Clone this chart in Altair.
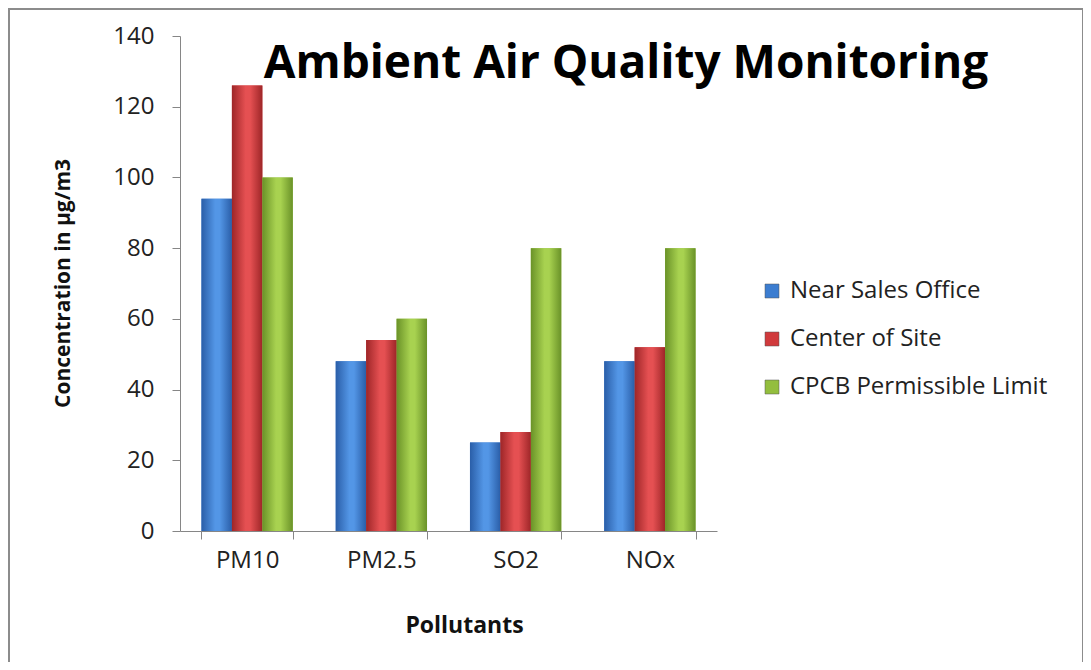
import altair as alt
import pandas as pd

pollutants = ["PM10", "PM2.5", "SO2", "NOx"]
series = ["Near Sales Office", "Center of Site", "CPCB Permissible Limit"]
near_sales_office = [94, 48, 25, 48]
center_of_site = [126, 54, 28, 52]
cpcb_limit = [100, 60, 80, 80]
y_ticks = [0, 20, 40, 60, 80, 100, 120, 140]

base_colors = ["#3C7DD0", "#D03A3C", "#93BE3E"]
edge_colors = ["#2A5EA8", "#9E2628", "#6A9228"]
mid_colors = ["#5396E6", "#E55052", "#A8D250"]

rows = []
for s, vals in zip(series, [near_sales_office, center_of_site, cpcb_limit]):
    for p, v in zip(pollutants, vals):
        rows.append({"Pollutant": p, "Series": s, "Value": v})
df = pd.DataFrame(rows)

FONT = "Open Sans"

x_enc = alt.X("Pollutant:N", sort=pollutants,
              scale=alt.Scale(paddingInner=0.32, paddingOuter=0.16),
              axis=alt.Axis(title="Pollutants", labelAngle=0, tickBand="extent",
                            labelFontSize=24, labelColor="#222222", labelPadding=9,
                            tickSize=8, tickColor="#868686", domainColor="#868686",
                            titleFontSize=23, titleFontWeight="bold", titleColor="#111111",
                            titleX=284, titleY=94, titleBaseline="middle"))
xo_enc = alt.XOffset("Series:N", sort=series, scale=alt.Scale(domain=series, paddingInner=0, paddingOuter=0))
y_enc = alt.Y("Value:Q", scale=alt.Scale(domain=[0, 140], nice=False),
              axis=alt.Axis(title="Concentration in µg/m3", values=y_ticks, grid=False,
                            labelFontSize=24, labelColor="#222222", labelPadding=18,
                            tickSize=8, tickColor="#868686", domainColor="#868686",
                            titleFontSize=21, titleFontWeight="bold", titleColor="#111111",
                            titleX=-117, titleY=247, titleAngle=-90, titleBaseline="middle"))

legend_bars = alt.Chart(df).mark_bar().encode(
    x=x_enc, xOffset=xo_enc, y=y_enc,
    color=alt.Color("Series:N", sort=series,
                    scale=alt.Scale(domain=series, range=base_colors),
                    legend=alt.Legend(title=None, orient="none", legendX=580, legendY=243,
                                      symbolType="square", symbolSize=196,
                                      symbolStrokeColor="#555555", symbolStrokeWidth=0.5,
                                      labelFontSize=24, labelColor="#222222", labelOffset=6,
                                      labelLimit=0, rowPadding=24, padding=0))
)

layers = [legend_bars]
for s, e, m in zip(series, edge_colors, mid_colors):
    grad = alt.LinearGradient(
        gradient="linear", x1=0, x2=1, y1=0, y2=0,
        stops=[alt.GradientStop(color=e, offset=0),
               alt.GradientStop(color=m, offset=0.45),
               alt.GradientStop(color=m, offset=0.6),
               alt.GradientStop(color=e, offset=1)])
    layers.append(
        alt.Chart(df).transform_filter(alt.datum.Series == s)
        .mark_bar(color=grad).encode(x=x_enc, xOffset=xo_enc, y=y_enc)
    )

title_df = pd.DataFrame({"t": ["Ambient Air Quality Monitoring"]})
title = alt.Chart(title_df).mark_text(
    fontSize=46, fontWeight="bold", font=FONT, color="#000000",
    align="center", baseline="alphabetic"
).encode(text="t:N", x=alt.value(446), y=alt.value(42))

border_df = pd.DataFrame({"b": [1]})
border = alt.Chart(border_df).mark_rect(filled=False, stroke="#8C8C8C", strokeWidth=2).encode(
    x=alt.value(-171), x2=alt.value(903), y=alt.value(-27), y2=alt.value(631)
)

chart = alt.layer(*layers, title, border).properties(
    width=537, height=495,
    autosize=alt.AutoSizeParams(type="none"),
    padding={"left": 172, "top": 28, "right": 366, "bottom": 131},
).configure(font=FONT).configure_view(stroke=None)

chart.save("out.html", embed_options={"renderer": "svg", "actions": False})
